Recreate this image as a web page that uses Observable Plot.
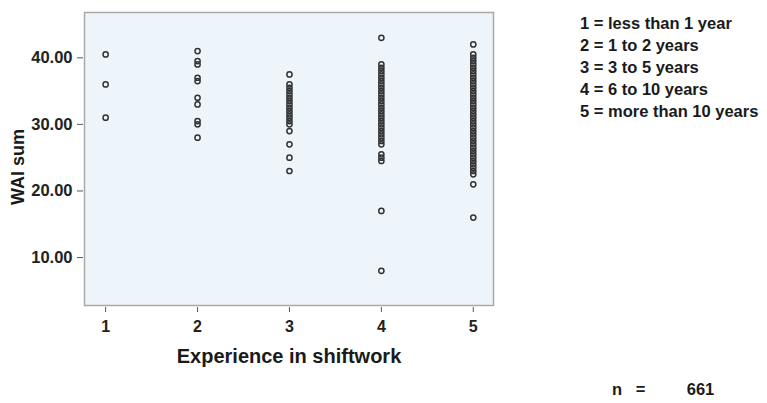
<!DOCTYPE html>
<html><head><meta charset="utf-8">
<script src="https://cdn.jsdelivr.net/npm/d3@7"></script>
<script src="https://cdn.jsdelivr.net/npm/@observablehq/plot@0.6"></script>
<style>
body{margin:0;background:#fff;font-family:"Liberation Sans",Arial,sans-serif;}
#wrap{position:relative;width:767px;height:403px;overflow:hidden;}
.leg{position:absolute;font-weight:bold;font-size:16.5px;color:#1a1a1a;white-space:pre;line-height:1;}
</style></head><body><div id="wrap"></div>
<script>
const categories = [1, 2, 3, 4, 5];
const yTicks = [10, 20, 30, 40];
const xTitle = "Experience in shiftwork";
const yTitle = "WAI sum";
const legendLabels = ["1 = less than 1 year", "2 = 1 to 2 years", "3 = 3 to 5 years", "4 = 6 to 10 years", "5 = more than 10 years"];
const nLabel = "n   =         661";

const wai1 = [40.5, 36, 31];
const wai2 = [41, 39.5, 39, 37, 36.5, 34, 33, 30.5, 30, 28];
const wai3 = [37.5, 36, 35.5, 35, 34.5, 34, 33.5, 33, 32.5, 32, 31.5, 31, 30.5, 30, 29, 27, 25, 23];
const wai4 = [43, 39, 38.5, 38, 37.5, 37, 36.5, 36, 35.5, 35, 34.5, 34, 33.5, 33, 32.5, 32, 31.5, 31, 30.5, 30, 29.5, 29, 28.5, 28, 27.5, 27, 25.5, 25, 24.5, 17, 8];
const wai5 = [42, 40.5, 40, 39.5, 39, 38.5, 38, 37.5, 37, 36.5, 36, 35.5, 35, 34.5, 34, 33.5, 33, 32.5, 32, 31.5, 31, 30.5, 30, 29.5, 29, 28.5, 28, 27.5, 27, 26.5, 26, 25.5, 25, 24.5, 24, 23.5, 23, 22.5, 21, 16];

const groups = [wai1, wai2, wai3, wai4, wai5];
const data = categories.flatMap((c, i) => groups[i].map(v => ({exp: c, wai: v})));

const chart = Plot.plot({
  width: 767, height: 403,
  marginLeft: 84, marginRight: 274, marginTop: 12, marginBottom: 98,
  style: {fontFamily: "'Liberation Sans', Arial, sans-serif", fontWeight: "bold", color: "#222", background: "transparent"},
  x: {domain: [0.77, 5.22], ticks: categories, tickFormat: d3.format("d")},
  y: {domain: [2.8, 46.8], ticks: yTicks, tickFormat: d3.format(".2f")},
  marks: [
    Plot.frame({fill: "#eef5fa", stroke: "#a9a9a9", strokeWidth: 1.5}),
    Plot.axisX({ticks: categories, tickFormat: d3.format("d"), tickSize: 5, dy: 2, tickPadding: 8, fontSize: 16, label: null, stroke: "#555"}),
    Plot.axisY({ticks: yTicks, tickFormat: d3.format(".2f"), tickSize: 6, dx: -1, tickPadding: 5, fontSize: 16.5, label: null, stroke: "#555"}),
    Plot.text([yTitle], {frameAnchor: "left", text: d => d, rotate: -90, textAnchor: "middle", lineAnchor: "middle", dx: -66, dy: 8, fontSize: 18, fontWeight: "bold", fill: "#1a1a1a"}),
    Plot.text([xTitle], {frameAnchor: "bottom", text: d => d, textAnchor: "middle", lineAnchor: "middle", dy: 51, fontSize: 20, fontWeight: "bold", fill: "#1a1a1a"}),
    Plot.dot(data, {x: "exp", y: "wai", r: 2.6, stroke: "#333", strokeWidth: 1.5, fill: "none"})
  ]
});
const wrap = document.getElementById("wrap");
wrap.appendChild(chart);
legendLabels.forEach((t, i) => {
  const d = document.createElement("div");
  d.className = "leg";
  d.textContent = t;
  d.style.left = "580px";
  d.style.top = (15 + i * 22) + "px";
  wrap.appendChild(d);
});
const n = document.createElement("div");
n.className = "leg";
n.textContent = nLabel;
n.style.left = "612px";
n.style.top = "381px";
wrap.appendChild(n);
</script></body></html>
